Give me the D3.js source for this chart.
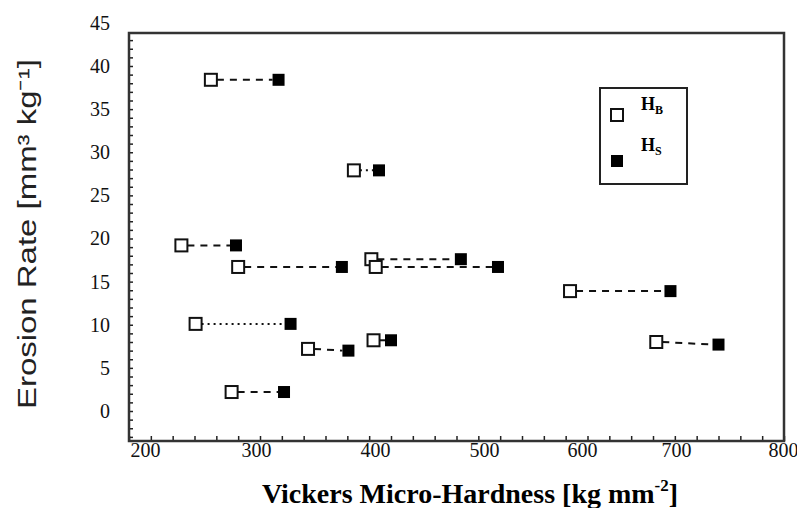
<!DOCTYPE html>
<html>
<head>
<meta charset="utf-8">
<script src="https://cdn.jsdelivr.net/npm/d3@7"></script>
<style>
  body { margin: 0; background: #fff; }
  svg { display: block; }
</style>
</head>
<body>
<div id="chart"></div>
<script>
// pairs of bulk (HB) and surface (HS) hardness vs erosion rate
var pairNames = ["A", "B", "C", "D", "E", "F", "G", "H", "I", "J", "K", "L"];
var hbHardness = [275, 406, 248, 300, 422, 426, 604, 261, 424, 364, 683, 294];
var hsHardness = [337, 429, 298, 395, 504, 538, 696, 348, 440, 401, 740, 342];
var hbRate = [38.4, 27.9, 19.2, 16.7, 17.6, 16.7, 13.9, 10.1, 8.2, 7.2, 8.0, 2.2];
var hsRate = [38.4, 27.9, 19.2, 16.7, 17.6, 16.7, 13.9, 10.1, 8.2, 7.0, 7.7, 2.2];
var xTickLabels = [200, 300, 400, 500, 600, 700, 800];
var yTickLabels = [0, 5, 10, 15, 20, 25, 30, 35, 40, 45];

var dottedPairs = ["B", "H"];

var W = 797, H = 508;
var frame = {left: 129, top: 33, right: 784, bottom: 441};

var svg = d3.select("#chart").append("svg")
    .attr("width", W)
    .attr("height", H);

var x = d3.scaleLinear().domain([200, 800]).range([frame.left, frame.right]);
var y = d3.scaleLinear().domain([0, 40]).range([411, 66]);

// the printed labels sit a little off the true tick positions
var xLabelPos = d3.scaleLinear()
    .domain(xTickLabels)
    .range([145, 256, 375, 484, 582, 676, 783]);

// tick marks along the bottom, pointing inward
svg.append("g")
    .attr("transform", `translate(0,${frame.bottom})`)
    .call(d3.axisBottom(x).tickValues(d3.range(200, 801, 20)).tickSize(-5).tickFormat(""))
    .call(g => g.select(".domain").remove())
    .selectAll("line").attr("stroke", "#222").attr("stroke-width", 1.5);

svg.append("g")
    .attr("transform", `translate(${frame.left},0)`)
    .call(d3.axisLeft(y).tickValues(d3.range(-3, 44, 1)).tickSize(-4).tickFormat(""))
    .call(g => g.select(".domain").remove())
    .selectAll("line").attr("stroke", "#222").attr("stroke-width", 1.5);

// tick labels
var xLab = svg.append("g")
    .attr("transform", `translate(0,${frame.bottom})`)
    .call(d3.axisBottom(xLabelPos).tickValues(xTickLabels).tickSize(0).tickPadding(2));
xLab.select(".domain").remove();
xLab.selectAll("text")
    .style("font-family", "'Liberation Serif', 'Times New Roman', serif")
    .style("font-size", "20px")
    .attr("fill", "#111");

var yLab = svg.append("g")
    .attr("transform", `translate(${frame.left},0)`)
    .call(d3.axisLeft(y).tickValues(yTickLabels).tickSize(0).tickPadding(19));
yLab.select(".domain").remove();
yLab.selectAll("text")
    .style("font-family", "'Liberation Serif', 'Times New Roman', serif")
    .style("font-size", "20px")
    .attr("fill", "#111");

// plot frame
svg.append("rect")
    .attr("x", frame.left)
    .attr("y", frame.top)
    .attr("width", frame.right - frame.left)
    .attr("height", frame.bottom - frame.top)
    .attr("fill", "none")
    .attr("stroke", "#333")
    .attr("stroke-width", 2.5);

// pairs
var pairs = pairNames.map((n, i) => ({
    name: n, hb: hbHardness[i], hs: hsHardness[i], rb: hbRate[i], rs: hsRate[i]
}));

var sq = 12;

svg.selectAll(".link")
    .data(pairs)
    .enter()
    .append("line")
    .attr("class", "link")
    .attr("x1", d => x(d.hb) + sq / 2)
    .attr("y1", d => y(d.rb))
    .attr("x2", d => x(d.hs) - sq / 2)
    .attr("y2", d => y(d.rs))
    .attr("stroke", "#111")
    .attr("stroke-width", 2)
    .attr("stroke-dasharray", d => dottedPairs.includes(d.name) ? "2,4" : "7,6");

svg.selectAll(".hb")
    .data(pairs)
    .enter()
    .append("rect")
    .attr("class", "hb")
    .attr("x", d => x(d.hb) - sq / 2)
    .attr("y", d => y(d.rb) - sq / 2)
    .attr("width", sq)
    .attr("height", sq)
    .attr("fill", "#fff")
    .attr("stroke", "#111")
    .attr("stroke-width", 2);

svg.selectAll(".hs")
    .data(pairs)
    .enter()
    .append("rect")
    .attr("class", "hs")
    .attr("x", d => x(d.hs) - sq / 2)
    .attr("y", d => y(d.rs) - sq / 2)
    .attr("width", sq)
    .attr("height", sq)
    .attr("fill", "#000");

// legend
var legend = svg.append("g");
legend.append("rect")
    .attr("x", 600).attr("y", 88)
    .attr("width", 87).attr("height", 96)
    .attr("fill", "#fff")
    .attr("stroke", "#222")
    .attr("stroke-width", 2);
legend.append("rect")
    .attr("x", 611).attr("y", 109)
    .attr("width", sq).attr("height", sq)
    .attr("fill", "#fff").attr("stroke", "#111").attr("stroke-width", 2);
legend.append("rect")
    .attr("x", 611).attr("y", 155)
    .attr("width", sq).attr("height", sq)
    .attr("fill", "#000");

[["B", 110], ["S", 151]].forEach(function(l) {
    var t = legend.append("text")
        .attr("x", 641).attr("y", l[1])
        .style("font-family", "'Liberation Serif', 'Times New Roman', serif")
        .style("font-weight", "bold")
        .style("font-size", "18px");
    t.append("tspan").text("H");
    t.append("tspan").attr("dy", 4).style("font-size", "12px").text(l[0]);
});

// axis titles
svg.append("text")
    .attr("x", 470).attr("y", 503)
    .attr("text-anchor", "middle")
    .style("font-family", "'Liberation Serif', 'Times New Roman', serif")
    .style("font-weight", "bold")
    .style("font-size", "28px")
    .call(t => {
        t.append("tspan").text("Vickers Micro-Hardness [kg mm");
        t.append("tspan").attr("dy", -12).style("font-size", "17px").text("-2");
        t.append("tspan").attr("dy", 12).text("]");
    });

svg.append("text")
    .attr("transform", "translate(36,234) rotate(-90)")
    .attr("text-anchor", "middle")
    .attr("textLength", 350)
    .attr("lengthAdjust", "spacingAndGlyphs")
    .style("font-family", "'Liberation Sans', Arial, sans-serif")
    .style("font-size", "26px")
    .attr("fill", "#222")
    .text("Erosion Rate [mm³ kg⁻¹]");
</script>
</body>
</html>
